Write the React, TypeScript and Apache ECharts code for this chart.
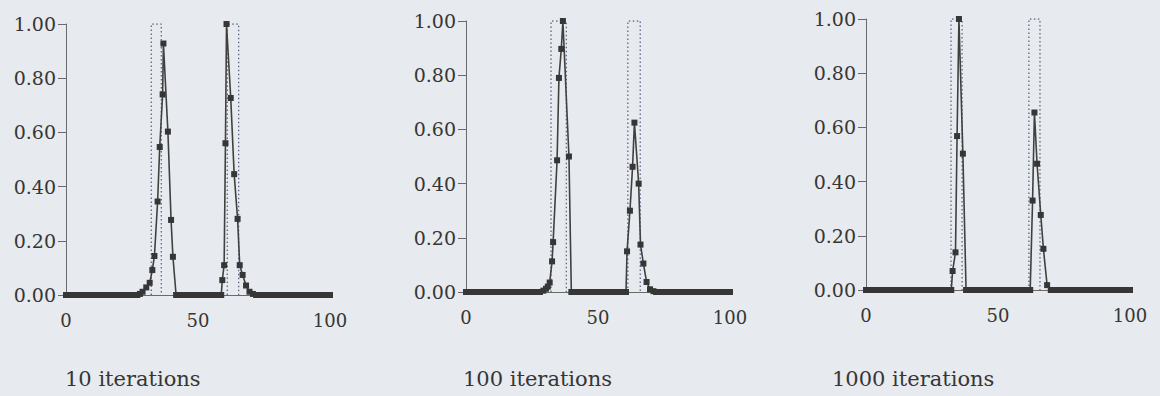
import React, { useEffect, useRef } from "react";
import * as echarts from "echarts";

// ---- tick labels / captions ----
const xTickInterval = 50;
const yTickInterval = 0.2;
const panelLabels = ["10 iterations", "100 iterations", "1000 iterations"];

// ---- 10 iterations ----
const base10 = [
  0, 1, 2, 3, 4, 5, 6, 7, 8, 9, 10, 11, 12, 13, 14, 15, 16, 17, 18, 19, 20, 21, 22, 23, 24, 25, 26, 27,
  43, 44, 45, 46, 47, 48, 49, 50, 51, 52, 53, 54, 55, 56, 57, 58,
  72, 73, 74, 75, 76, 77, 78, 79, 80, 81, 82, 83, 84, 85, 86, 87, 88, 89, 90, 91, 92, 93, 94, 95, 96, 97, 98, 99, 100,
];
const peaks10: [number, number][] = [
  [28, 0.004], [29, 0.012], [30.4, 0.028], [31.7, 0.045], [32.7, 0.092], [33.5, 0.144], [34.7, 0.345],
  [35.5, 0.546], [36.6, 0.74], [36.9, 0.928], [38.6, 0.603], [39.8, 0.277], [40.5, 0.141], [41.7, 0],
  [58.8, 0], [59.2, 0.055], [59.9, 0.11], [60.4, 0.56], [60.8, 1.0], [62.4, 0.727], [63.7, 0.446],
  [65.0, 0.281], [65.8, 0.11], [66.9, 0.074], [68.2, 0.035], [69.5, 0.012], [70.8, 0.004],
];
const target10: [number, number][] = [[32.3, 36.1], [61.1, 65.4]];

// ---- 100 iterations ----
const base100 = [
  0, 1, 2, 3, 4, 5, 6, 7, 8, 9, 10, 11, 12, 13, 14, 15, 16, 17, 18, 19, 20, 21, 22, 23, 24, 25, 26, 27, 28,
  41, 42, 43, 44, 45, 46, 47, 48, 49, 50, 51, 52, 53, 54, 55, 56, 57, 58, 59,
  72, 73, 74, 75, 76, 77, 78, 79, 80, 81, 82, 83, 84, 85, 86, 87, 88, 89, 90, 91, 92, 93, 94, 95, 96, 97, 98, 99, 100,
];
const peaks100: [number, number][] = [
  [29.3, 0.005], [30.3, 0.012], [31.0, 0.02], [31.7, 0.035], [32.6, 0.113], [33.0, 0.184], [34.5, 0.486],
  [35.2, 0.79], [36.1, 0.897], [36.7, 1.0], [39.0, 0.5], [39.9, 0],
  [60.6, 0], [61.0, 0.15], [62.1, 0.3], [63.1, 0.462], [63.8, 0.625], [65.4, 0.4], [66.1, 0.175],
  [67.2, 0.105], [68.4, 0.037], [69.7, 0.01], [71.0, 0.003],
];
const target100: [number, number][] = [[32.2, 38.0], [61.3, 66.0]];

// ---- 1000 iterations ----
const base1000 = [
  0, 1, 2, 3, 4, 5, 6, 7, 8, 9, 10, 11, 12, 13, 14, 15, 16, 17, 18, 19, 20, 21, 22, 23, 24, 25, 26, 27, 28, 29, 30, 31,
  39, 40, 41, 42, 43, 44, 45, 46, 47, 48, 49, 50, 51, 52, 53, 54, 55, 56, 57, 58, 59, 60, 61,
  70, 71, 72, 73, 74, 75, 76, 77, 78, 79, 80, 81, 82, 83, 84, 85, 86, 87, 88, 89, 90, 91, 92, 93, 94, 95, 96, 97, 98, 99, 100,
];
const peaks1000: [number, number][] = [
  [32.3, 0], [32.8, 0.07], [33.9, 0.139], [34.5, 0.568], [35.2, 1.0], [36.7, 0.503], [37.9, 0],
  [62.2, 0], [63.1, 0.33], [63.8, 0.655], [64.8, 0.466], [66.2, 0.277], [67.2, 0.152], [68.6, 0.018],
];
const target1000: [number, number][] = [[32.2, 36.4], [61.7, 65.9]];

const panels = [
  { base: base10, peaks: peaks10, target: target10, label: panelLabels[0], left: 66, top: 24, labelX: 65 },
  { base: base100, peaks: peaks100, target: target100, label: panelLabels[1], left: 466, top: 21, labelX: 463 },
  { base: base1000, peaks: peaks1000, target: target1000, label: panelLabels[2], left: 866, top: 19, labelX: 832 },
];

const FONT = '"DejaVu Serif", "Liberation Serif", serif';
const INK = "#363636";

export default function App() {
  const ref = useRef<HTMLDivElement>(null);
  useEffect(() => {
    document.body.style.margin = "0";
    if (!ref.current) return;
    const chart = echarts.init(ref.current, undefined, { renderer: "svg" });
    const grid: any[] = [];
    const xAxis: any[] = [];
    const yAxis: any[] = [];
    const series: any[] = [];
    const graphic: any[] = [];
    panels.forEach((p, i) => {
      grid.push({ left: p.left, top: p.top, width: 264, height: 271 });
      xAxis.push({
        type: "value",
        gridIndex: i,
        min: 0,
        max: 100,
        interval: xTickInterval,
        axisLine: { lineStyle: { color: "#6a6a6a", width: 1 } },
        axisTick: { show: false },
        splitLine: { show: false },
        axisLabel: { margin: 16, color: INK, fontFamily: FONT, fontSize: 18 },
      });
      yAxis.push({
        type: "value",
        gridIndex: i,
        min: 0,
        max: 1,
        interval: yTickInterval,
        axisLine: { show: true, lineStyle: { color: "#6a6a6a", width: 1 } },
        axisTick: { show: true, length: 8, lineStyle: { color: "#6a6a6a" } },
        splitLine: { show: false },
        axisLabel: {
          margin: 10,
          color: INK,
          fontFamily: FONT,
          fontSize: 19,
          formatter: (v: number) => v.toFixed(2),
        },
      });
      p.target.forEach(([a, b]) => {
        series.push({
          type: "line",
          xAxisIndex: i,
          yAxisIndex: i,
          data: [[a, 0], [a, 1], [b, 1], [b, 0]],
          symbol: "none",
          lineStyle: { color: "#5d6484", width: 1.3, type: [1.5, 2.5] },
          z: 1,
          silent: true,
        });
      });
      const data = [...p.base.map((x) => [x, 0] as [number, number]), ...p.peaks].sort((m, n) => m[0] - n[0]);
      series.push({
        type: "line",
        xAxisIndex: i,
        yAxisIndex: i,
        data,
        symbol: "rect",
        symbolSize: 6,
        showAllSymbol: true,
        lineStyle: { color: "#404040", width: 1.6 },
        itemStyle: { color: INK },
        z: 3,
      });
      graphic.push({
        type: "text",
        x: p.labelX,
        y: 379,
        style: { text: p.label, font: `21px ${FONT}`, fill: INK, textVerticalAlign: "middle" },
      });
    });
    chart.setOption({
      animation: false,
      backgroundColor: "#e7eaee",
      grid,
      xAxis,
      yAxis,
      series,
      graphic,
    });
    return () => chart.dispose();
  }, []);
  return <div ref={ref} style={{ width: 1160, height: 396 }} />;
}
